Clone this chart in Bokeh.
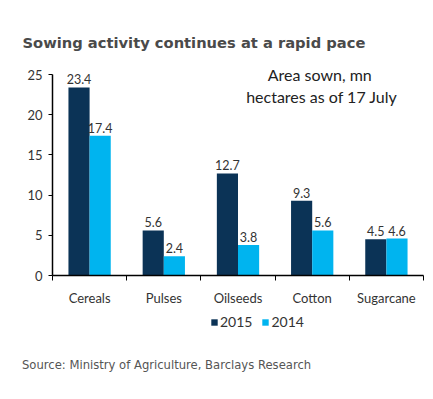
import numpy as np
from bokeh.plotting import figure
from bokeh.models import (ColumnDataSource, Range1d, FixedTicker, LabelSet, Label,
                          Legend, LegendItem, Div)
from bokeh.layouts import column
from bokeh.core.properties import value
from bokeh.transform import dodge
from bokeh.embed import file_html
from bokeh.resources import INLINE

categories = ["Cereals", "Pulses", "Oilseeds", "Cotton", "Sugarcane"]
area_2015 = [23.4, 5.6, 12.7, 9.3, 4.5]
area_2014 = [17.4, 2.4, 3.8, 5.6, 4.6]
y_ticks = [0, 5, 10, 15, 20, 25]
series_names = ["2015", "2014"]

C2015 = "#0b3356"
C2014 = "#00b4ef"

pos = np.arange(len(categories)) + 0.5
src = ColumnDataSource(dict(
    x=pos, cat=categories, v15=area_2015, v14=area_2014,
    t15=[f"{v:.1f}" for v in area_2015], t14=[f"{v:.1f}" for v in area_2014],
))

W, H1, H2, H3 = 433, 308, 40, 51
LEFT, RIGHT = 52, 10

p = figure(width=W, height=H1, output_backend="svg", toolbar_location=None,
           x_range=Range1d(0, len(categories)), y_range=Range1d(0, 27),
           min_border_left=LEFT, min_border_right=RIGHT, min_border_top=58, min_border_bottom=26)
p.outline_line_color = None
p.xgrid.visible = False
p.ygrid.visible = False

bw = 0.285
p.vbar(x=dodge("x", -bw / 2, range=p.x_range), top="v15", width=bw, source=src,
       color=C2015, line_color=None)
p.vbar(x=dodge("x", bw / 2, range=p.x_range), top="v14", width=bw, source=src,
       color=C2014, line_color=None)

lab_font = "Lato"
for col, off in (("t15", -bw / 2), ("t14", bw / 2)):
    p.add_layout(LabelSet(x=dodge("x", off, range=p.x_range), y=col.replace("t", "v"), text=col,
                          source=src, text_align="center", text_baseline="bottom", y_offset=3,
                          text_font=value(lab_font), text_font_size="12.5px", text_color="#333333"))

# axes
xa = p.xaxis[0]
xa.ticker = FixedTicker(ticks=list(pos), minor_ticks=list(range(len(categories) + 1)))
xa.major_label_overrides = {float(x): c for x, c in zip(pos, categories)}
xa.major_tick_line_color = None
xa.major_tick_out = 0
xa.major_tick_in = 0
xa.minor_tick_in = 0
xa.minor_tick_out = 5
xa.minor_tick_line_color = "black"
xa.axis_line_color = "black"
xa.axis_line_width = 1.5
xa.major_label_text_font = lab_font
xa.major_label_text_font_size = "13px"
xa.major_label_text_color = "#333333"
xa.major_label_standoff = 9

ya = p.yaxis[0]
ya.ticker = FixedTicker(ticks=y_ticks)
ya.bounds = (0, 25)
ya.minor_tick_line_color = None
ya.major_tick_in = 0
ya.major_tick_out = 4
ya.axis_line_color = "black"
ya.axis_line_width = 1.5
ya.major_tick_line_color = "black"
ya.major_label_text_font = lab_font
ya.major_label_text_font_size = "13px"
ya.major_label_text_color = "#333333"
ya.major_label_standoff = 6

# title
p.title.text = "Sowing activity continues at a rapid pace"
p.title.align = "left"
p.title.offset = -30
p.title.standoff = 15
p.title.text_font = "DejaVu Sans"
p.title.text_font_style = "bold"
p.title.text_font_size = "14.7px"
p.title.text_color = "#4a4a4a"

p.add_layout(Label(x=3.63, y=25.0, text="Area sown,  mn", text_align="center", text_baseline="middle",
                   text_font="Lato", text_font_size="16px", text_color="#222222"))
p.add_layout(Label(x=3.63, y=22.3, text="hectares as of 17 July", text_align="center",
                   text_baseline="middle", text_font="Lato", text_font_size="16px", text_color="#222222"))

# legend strip (its frame is aligned with the chart frame)
q = figure(width=W, height=H2, output_backend="svg", toolbar_location=None,
           x_range=Range1d(100, 100 + W - LEFT - RIGHT), y_range=Range1d(100, 100 + H2),
           x_axis_location=None, y_axis_location=None,
           min_border_left=LEFT, min_border_right=RIGHT, min_border_top=0, min_border_bottom=0)
q.outline_line_color = None
q.xgrid.visible = False
q.ygrid.visible = False
# legend swatches reuse the series data (they fall outside this strip's ranges)
l15 = q.vbar(x="x", top="v15", width=bw, source=src, color=C2015, line_color=None)
l14 = q.vbar(x="x", top="v14", width=bw, source=src, color=C2014, line_color=None)

legend = Legend(items=[LegendItem(label=series_names[0], renderers=[l15]),
                       LegendItem(label=series_names[1], renderers=[l14])],
                orientation="horizontal", location=(158, 18), border_line_color=None,
                background_fill_alpha=0, glyph_width=8, glyph_height=8, label_standoff=2,
                spacing=9, padding=2, margin=0,
                label_text_font=lab_font, label_text_font_size="14px", label_text_color="#333333")
q.add_layout(legend, "center")

src_note = Div(text="Source: Ministry of Agriculture, Barclays Research", width=W, height=H3,
               margin=(0, 0, 0, 0),
               styles={"font-family": "DejaVu Sans", "font-size": "11.6px", "color": "#555555",
                       "padding-left": "22px", "padding-top": "9px", "box-sizing": "border-box",
                       "white-space": "nowrap"})

layout = column(p, q, src_note, spacing=0)
open("out.html", "w").write(file_html(layout, INLINE))
